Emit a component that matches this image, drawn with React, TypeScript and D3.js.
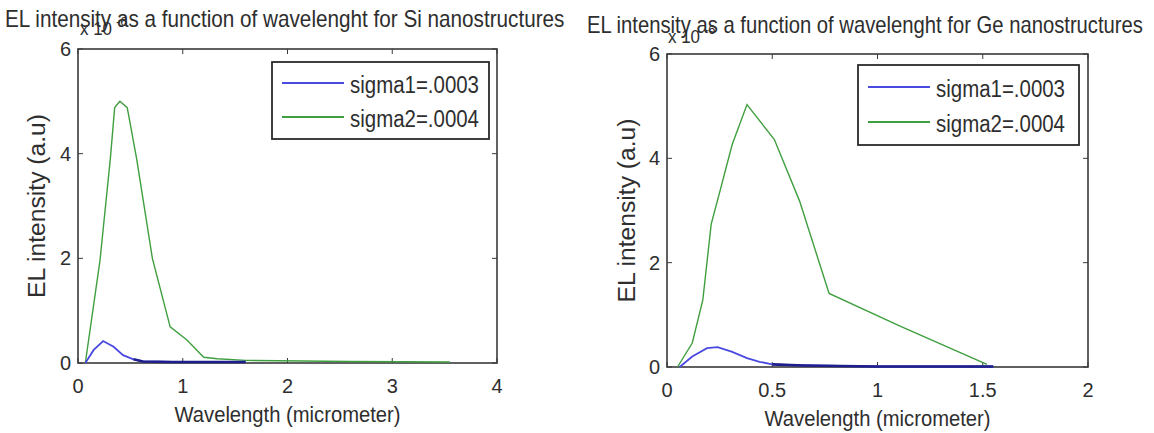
import React from 'react';
import * as d3 from 'd3';

// Si panel (x10^-6)
const siX1 = [0.07, 0.15, 0.24, 0.34, 0.43, 0.53, 0.62, 0.9, 1.2, 1.6];
const siY1 = [0, 0.25, 0.42, 0.31, 0.15, 0.07, 0.03, 0.02, 0.02, 0.02];
const siX2 = [0.07, 0.21, 0.31, 0.35, 0.4, 0.47, 0.56, 0.71, 0.88, 1.04, 1.2, 1.33, 1.6, 2.6, 3.55];
const siY2 = [0, 1.96, 3.93, 4.88, 5.0, 4.88, 3.9, 2.0, 0.69, 0.44, 0.11, 0.08, 0.05, 0.03, 0.02];

// Ge panel (x10^-6)
const geX1 = [0.06, 0.12, 0.19, 0.24, 0.31, 0.38, 0.44, 0.5, 0.65, 1.0, 1.55];
const geY1 = [0, 0.2, 0.36, 0.38, 0.29, 0.17, 0.1, 0.05, 0.03, 0.01, 0.01];
const geX2 = [0.05, 0.12, 0.17, 0.21, 0.26, 0.31, 0.38, 0.51, 0.63, 0.77, 1.11, 1.52];
const geY2 = [0, 0.46, 1.28, 2.74, 3.5, 4.27, 5.03, 4.36, 3.18, 1.41, 0.78, 0.05];

const siXTicks = [0, 1, 2, 3, 4];
const geXTicks = [0, 0.5, 1, 1.5, 2];
const yTicks = [0, 2, 4, 6];
const legendLabels = ['sigma1=.0003', 'sigma2=.0004'];

const BLUE = '#4a4ae0';
const NAVY = '#1e1e8c';
const GREEN = '#3f9f3f';
const FONT = '"Liberation Sans", Arial, sans-serif';
const INK = '#2e2e2e';

type Box = { left: number; right: number; top: number; bottom: number };

interface PanelProps {
  box: Box;
  xMax: number;
  xTicks: number[];
  x1: number[];
  y1: number[];
  x2: number[];
  y2: number[];
  tailFrom: number;
  title: string;
  titleX: number;
  titleY: number;
  titleScale: number;
  expX: number;
  expY: number;
  legend: Box;
  rows: [number, number];
  ylabelX: number;
  xlabelY: number;
}

const Panel: React.FC<PanelProps> = (p) => {
  const { box } = p;
  const x = d3.scaleLinear().domain([0, p.xMax]).range([box.left, box.right]);
  const y = d3.scaleLinear().domain([0, 6]).range([box.bottom, box.top]);
  const line = d3.line<[number, number]>().x(d => x(d[0])).y(d => y(d[1]));
  const s1 = p.x1.map((v, i) => [v, p.y1[i]] as [number, number]);
  const s2 = p.x2.map((v, i) => [v, p.y2[i]] as [number, number]);
  const tail = s1.filter(d => d[0] >= p.tailFrom);
  const tk = 5;
  const lg = p.legend;

  return (
    <g>
      <text transform={`translate(${p.titleX},${p.titleY}) scale(${p.titleScale},1)`} fontSize={23} fill={INK}
        fontFamily={FONT}>{p.title}</text>
      <text x={p.expX} y={p.expY} fontSize={18} fill={INK} fontFamily={FONT}
        textLength={32} lengthAdjust="spacingAndGlyphs">x 10</text>
      <text x={p.expX + 36} y={p.expY - 9} fontSize={13} fill={INK} fontFamily={FONT}>-6</text>

      <rect x={box.left} y={box.top} width={box.right - box.left} height={box.bottom - box.top}
        fill="none" stroke="#3a3a3a" strokeWidth={1.6} />

      {p.xTicks.map(t => (
        <g key={'x' + t}>
          <line x1={x(t)} x2={x(t)} y1={box.bottom} y2={box.bottom - tk} stroke="#3a3a3a" />
          <line x1={x(t)} x2={x(t)} y1={box.top} y2={box.top + tk} stroke="#3a3a3a" />
          <text x={x(t)} y={box.bottom + 30} textAnchor="middle" fontSize={20} fill={INK} fontFamily={FONT}>{t}</text>
        </g>
      ))}
      {yTicks.map(t => (
        <g key={'y' + t}>
          <line x1={box.left} x2={box.left + tk} y1={y(t)} y2={y(t)} stroke="#3a3a3a" />
          <line x1={box.right} x2={box.right - tk} y1={y(t)} y2={y(t)} stroke="#3a3a3a" />
          <text x={box.left - 7} y={y(t) + 7} textAnchor="end" fontSize={20} fill={INK} fontFamily={FONT}>{t}</text>
        </g>
      ))}

      <path d={line(s2) || ''} fill="none" stroke={GREEN} strokeWidth={1.4} />
      <path d={line(s1) || ''} fill="none" stroke={BLUE} strokeWidth={1.8} />
      <path d={line(tail) || ''} fill="none" stroke={NAVY} strokeWidth={2.6} />

      <text x={(box.left + box.right) / 2} y={p.xlabelY} textAnchor="middle" fontSize={22} fill={INK} fontFamily={FONT}
        textLength={226} lengthAdjust="spacingAndGlyphs">
        Wavelength (micrometer)
      </text>
      <text transform={`translate(${p.ylabelX},${(box.top + box.bottom) / 2}) rotate(-90)`} textAnchor="middle"
        fontSize={23} fill={INK} fontFamily={FONT} textLength={184} lengthAdjust="spacingAndGlyphs">EL intensity (a.u)</text>

      <rect x={lg.left} y={lg.top} width={lg.right - lg.left} height={lg.bottom - lg.top}
        fill="#fff" stroke="#2a2a2a" strokeWidth={1.8} />
      {legendLabels.map((l, i) => {
        const cy = p.rows[i];
        return (
          <g key={l}>
            <line x1={lg.left + 10} x2={lg.left + 72} y1={cy} y2={cy}
              stroke={i === 0 ? BLUE : GREEN} strokeWidth={1.8} />
            <text x={lg.left + 78} y={cy + 10} fontSize={23} fill={INK} fontFamily={FONT}
              textLength={129} lengthAdjust="spacingAndGlyphs">{l}</text>
          </g>
        );
      })}
    </g>
  );
};

export default function App() {
  return (
    <svg width={1154} height={433} style={{ position: 'absolute', left: 0, top: 0, background: '#fff' }}>
      <rect width={1154} height={433} fill="#fff" />
      <Panel box={{ left: 78, right: 497, top: 49, bottom: 363 }} xMax={4} xTicks={siXTicks}
        x1={siX1} y1={siY1} x2={siX2} y2={siY2} tailFrom={0.53}
        title="EL intensity as a function of wavelenght for Si nanostructures"
        titleX={5} titleY={27} titleScale={0.9} expX={80} expY={35}
        legend={{ left: 272, right: 489, top: 62, bottom: 139 }} rows={[83, 117]}
        ylabelX={45} xlabelY={422} />
      <Panel box={{ left: 667, right: 1088, top: 54, bottom: 367 }} xMax={2} xTicks={geXTicks}
        x1={geX1} y1={geY1} x2={geX2} y2={geY2} tailFrom={0.5}
        title="EL intensity as a function of wavelenght for Ge nanostructures"
        titleX={587} titleY={33} titleScale={0.88} expX={668} expY={43}
        legend={{ left: 858, right: 1079, top: 65, bottom: 145 }} rows={[87, 122]}
        ylabelX={635} xlabelY={426} />
    </svg>
  );
}
